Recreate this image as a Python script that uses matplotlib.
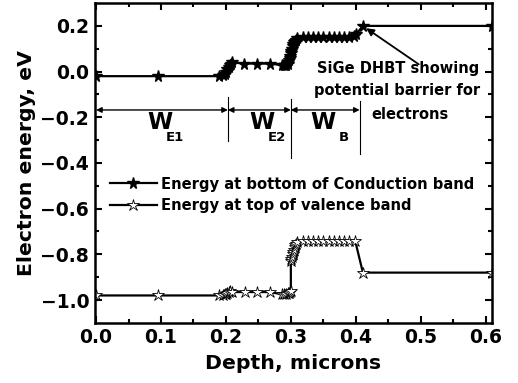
import matplotlib
matplotlib.use('Agg')
import matplotlib.pyplot as plt

plt.rcParams['font.family'] = ['DejaVu Sans']
plt.rcParams['font.weight'] = 'bold'

# conduction band (bottom)
cb_x = [0.0, 0.095, 0.19, 0.195, 0.198, 0.200, 0.202, 0.204, 0.206, 0.208, 0.210,
        0.228, 0.248, 0.268, 0.286, 0.289, 0.291, 0.293, 0.295, 0.296, 0.297,
        0.298, 0.299, 0.300, 0.301, 0.302, 0.303, 0.304, 0.305, 0.306, 0.308,
        0.310, 0.318, 0.326, 0.334, 0.342, 0.350, 0.358, 0.366, 0.374, 0.382,
        0.390, 0.397, 0.401, 0.411, 0.61]
cb_y = [-0.02, -0.02, -0.02, -0.015, -0.01, 0.0, 0.01, 0.02, 0.03, 0.035, 0.04,
        0.035, 0.035, 0.035, 0.028, 0.028, 0.03, 0.03, 0.035, 0.04, 0.05,
        0.06, 0.07, 0.08, 0.09, 0.10, 0.11, 0.12, 0.13, 0.135, 0.14,
        0.145, 0.15, 0.15, 0.15, 0.15, 0.15, 0.15, 0.15, 0.15, 0.15,
        0.15, 0.155, 0.165, 0.20, 0.20]

# valence band (top)
vb_x = [0.0, 0.095, 0.19, 0.195, 0.198, 0.200, 0.202, 0.204, 0.207, 0.210,
        0.229, 0.248, 0.268, 0.286, 0.289, 0.292, 0.295, 0.297, 0.299, 0.300,
        0.300, 0.301, 0.302, 0.303, 0.304, 0.305, 0.306, 0.307, 0.308, 0.310,
        0.318, 0.326, 0.334, 0.342, 0.350, 0.358, 0.366, 0.374, 0.382, 0.390,
        0.399, 0.411, 0.61]
vb_y = [-0.98, -0.98, -0.98, -0.98, -0.975, -0.975, -0.97, -0.965, -0.96, -0.965,
        -0.965, -0.965, -0.965, -0.975, -0.975, -0.975, -0.97, -0.97, -0.965, -0.96,
        -0.83, -0.82, -0.81, -0.80, -0.79, -0.78, -0.77, -0.76, -0.755, -0.745,
        -0.74, -0.74, -0.74, -0.74, -0.74, -0.74, -0.74, -0.74, -0.74, -0.74,
        -0.74, -0.88, -0.88]

region_edges = [0.0, 0.203, 0.300, 0.406]
region_subs = ['E1', 'E2', 'B']

fig = plt.figure(figsize=(5.18, 3.83), dpi=100)
ax = fig.add_axes([0.183, 0.157, 0.767, 0.835])

ax.plot(cb_x, cb_y, '-k', lw=1.6, marker='*', ms=8.5, mfc='k', mec='k',
        label='Energy at bottom of Conduction band')
ax.plot(vb_x, vb_y, '-k', lw=1.6, marker='*', ms=9, mfc='white', mec='k', mew=0.6,
        label='Energy at top of valence band')

# region width markers
arr_y = -0.168
for i in range(len(region_subs)):
    ax.annotate('', xy=(region_edges[i], arr_y), xytext=(region_edges[i + 1], arr_y),
                arrowprops=dict(arrowstyle='<|-|>', lw=1.0, color='k',
                                mutation_scale=8, shrinkA=0, shrinkB=0))
vlines = [(0.203, -0.11, -0.305), (0.300, -0.12, -0.38), (0.406, -0.13, -0.36)]
for xv, y0, y1 in vlines:
    ax.plot([xv, xv], [y0, y1], color='k', lw=0.8)
w_x = [0.0985, 0.255, 0.349]
sub_x = [0.1215, 0.278, 0.3815]
for xw, xs, sub in zip(w_x, sub_x, region_subs):
    ax.text(xw, -0.225, 'W', fontsize=16.5, ha='center', va='center')
    ax.text(xs, -0.29, sub, fontsize=9.5, ha='center', va='center')

ax.annotate('', xy=(0.416, 0.19), xytext=(0.497, 0.032),
            arrowprops=dict(arrowstyle='-|>', lw=1.3, color='k',
                            mutation_scale=11, shrinkA=0, shrinkB=0))
ax.text(0.466, 0.013, 'SiGe DHBT showing', fontsize=10.5, ha='center', va='center')
ax.text(0.464, -0.084, 'potential barrier for', fontsize=10.5, ha='center', va='center')
ax.text(0.483, -0.188, 'electrons', fontsize=10.5, ha='center', va='center')

ax.set_xlim(-0.002, 0.61)
ax.set_ylim(-1.1, 0.3)
ax.set_xticks([0.0, 0.1, 0.2, 0.3, 0.4, 0.5, 0.6])
ax.set_xticks([0.05, 0.15, 0.25, 0.35, 0.45, 0.55], minor=True)
ax.set_yticks([0.2, 0.0, -0.2, -0.4, -0.6, -0.8, -1.0])
ax.set_yticks([0.1, -0.1, -0.3, -0.5, -0.7, -0.9], minor=True)
ax.tick_params(which='both', direction='in', top=True, right=True, width=1.5, labelsize=13.5)
ax.tick_params(which='major', length=5, pad=4)
ax.tick_params(which='minor', length=3)
for s in ax.spines.values():
    s.set_linewidth(1.8)

ax.set_xlabel('Depth, microns', fontsize=14.7, fontweight='bold', labelpad=5)
ax.set_ylabel('Electron energy, eV', fontsize=14.7, fontweight='bold', labelpad=3)

ax.legend(loc='center left', bbox_to_anchor=(0.038, 0.40), frameon=False, fontsize=10.6,
          handlelength=3.2, handletextpad=0.3, borderaxespad=0, borderpad=0,
          labelspacing=0.45)

fig.savefig('out.png', dpi=100)
